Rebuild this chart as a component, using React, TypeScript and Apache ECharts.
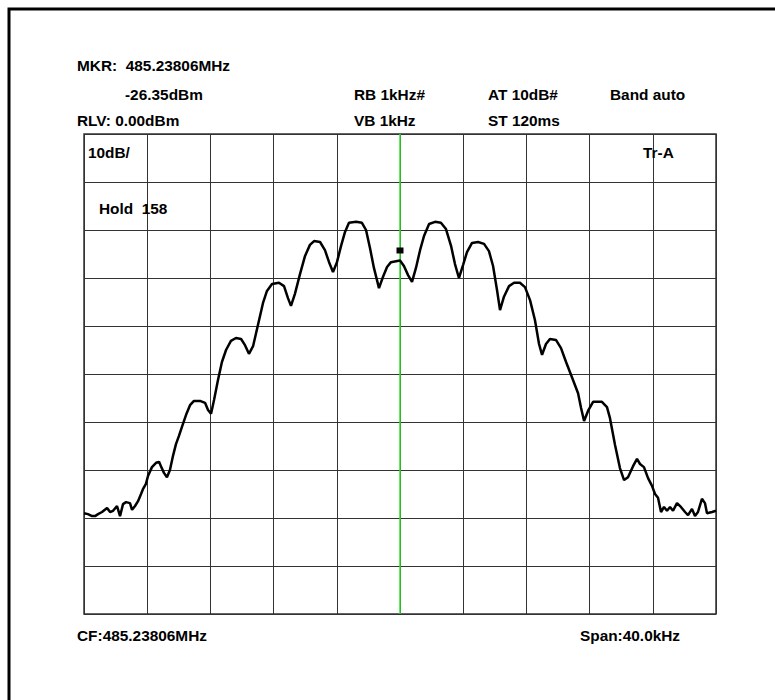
import React, { useEffect, useRef } from "react";
import * as echarts from "echarts";

// Frequency offset from centre (kHz), span 40 kHz
const freqOffsets = [
  -20, -19.75, -19.49, -19.3, -19.11, -18.86, -18.54, -18.35, -18.16, -17.91,
  -17.72, -17.53, -17.34, -17.09, -16.96, -16.77, -16.58, -16.39, -16.27, -16.08,
  -15.95, -15.7, -15.44, -15.25, -15.13, -14.94, -14.75, -14.56, -14.37, -14.18,
  -13.99, -13.8, -13.54, -13.29, -13.04, -12.66, -12.34, -12.15, -11.96, -11.77,
  -11.52, -11.27, -11.01, -10.7, -10.38, -10.06, -9.81, -9.56, -9.3, -8.99,
  -8.67, -8.42, -8.1, -7.66, -7.34, -7.09, -6.9, -6.65, -6.33, -6.01,
  -5.7, -5.44, -5.06, -4.75, -4.49, -4.24, -3.99, -3.73, -3.48, -3.23,
  -2.78, -2.41, -2.15, -1.9, -1.65, -1.33, -1.08, -0.82, -0.57, -0.25,
  0, 0.25, 0.51, 0.76, 1.01, 1.27, 1.52, 1.84, 2.22, 2.59,
  2.91, 3.23, 3.48, 3.73, 3.99, 4.24, 4.56, 4.94, 5.32, 5.63,
  5.89, 6.14, 6.33, 6.58, 6.9, 7.22, 7.59, 7.91, 8.23, 8.54,
  8.8, 8.99, 9.24, 9.49, 9.87, 10.19, 10.51, 10.95, 11.27, 11.46,
  11.65, 11.9, 12.22, 12.78, 13.1, 13.29, 13.61, 13.92, 14.18, 14.43,
  14.75, 15.0, 15.19, 15.44, 15.7, 15.95, 16.14, 16.33, 16.52, 16.71,
  16.9, 17.09, 17.28, 17.53, 17.78, 18.04, 18.23, 18.48, 18.67, 18.86,
  19.11, 19.3, 19.43, 19.75, 20,
];

// Trace level (dBm)
const levels = [
  -79.0, -79.2, -79.6, -79.6, -79.2, -78.75, -77.9, -78.75, -78.5, -77.5,
  -79.6, -77.1, -76.7, -76.9, -78.3, -77.5, -76.5, -75.0, -74.0, -72.9,
  -71.25, -69.4, -68.5, -68.3, -69.2, -70.6, -71.5, -70.0, -67.1, -64.6,
  -62.9, -61.0, -58.5, -56.5, -55.6, -55.6, -56.0, -57.5, -58.3, -55.4,
  -51.25, -47.5, -45.0, -43.1, -42.5, -42.7, -44.0, -45.8, -44.2, -39.8,
  -35.2, -32.7, -31.25, -31.0, -31.7, -34.2, -35.8, -33.3, -29.2, -25.4,
  -23.1, -22.3, -22.5, -24.2, -26.7, -28.75, -26.7, -23.3, -20.4, -18.5,
  -18.3, -18.5, -20.0, -23.75, -27.9, -32.1, -29.8, -27.7, -26.7, -26.5,
  -26.35, -27.5, -29.4, -30.8, -27.9, -24.2, -21.25, -18.75, -18.3, -18.5,
  -19.8, -23.3, -27.1, -30.0, -27.3, -24.6, -22.7, -22.5, -22.9, -24.4,
  -27.5, -32.5, -36.7, -33.9, -31.7, -31.0, -31.0, -31.9, -34.6, -38.75,
  -43.75, -46.0, -43.75, -42.7, -42.9, -44.6, -47.5, -51.25, -54.0, -57.1,
  -59.8, -57.7, -55.8, -55.8, -56.9, -59.2, -64.8, -69.6, -72.1, -71.5,
  -69.2, -67.7, -68.75, -69.4, -71.7, -73.3, -75.0, -75.8, -78.75, -77.7,
  -78.5, -77.7, -78.5, -76.9, -77.7, -78.75, -79.4, -78.1, -79.6, -78.75,
  -76.0, -76.9, -79.0, -78.75, -78.5,
];

const markerFreq = 0;
const markerLevel = -26.35;

const headerTexts = [
  { text: "MKR:  485.23806MHz", x: 77, y: 66 },
  { text: "-26.35dBm", x: 125, y: 95 },
  { text: "RLV: 0.00dBm", x: 77, y: 121 },
  { text: "RB 1kHz#", x: 354, y: 95 },
  { text: "AT 10dB#", x: 488, y: 95 },
  { text: "Band auto", x: 610, y: 95 },
  { text: "VB 1kHz", x: 354, y: 121 },
  { text: "ST 120ms", x: 488, y: 121 },
  { text: "10dB/", x: 88, y: 153 },
  { text: "Tr-A", x: 643, y: 153 },
  { text: "Hold  158", x: 99, y: 209 },
  { text: "CF:485.23806MHz", x: 77, y: 636 },
  { text: "Span:40.0kHz", x: 580, y: 636 },
];

export default function App() {
  const ref = useRef<HTMLDivElement>(null);

  useEffect(() => {
    if (!ref.current) return;
    const chart = echarts.init(ref.current, null, { renderer: "svg" });
    const data = freqOffsets.map((f, i) => [f, levels[i]]);
    const font = "'Liberation Sans', Arial, Helvetica, sans-serif";

    chart.setOption({
      animation: false,
      backgroundColor: "#ffffff",
      grid: {
        left: 84,
        top: 134,
        width: 632,
        height: 480,
        show: true,
        borderColor: "#333",
        borderWidth: 1.5,
        backgroundColor: "transparent",
      },
      xAxis: {
        type: "value",
        min: -20,
        max: 20,
        interval: 4,
        axisLine: { show: false },
        axisTick: { show: false },
        axisLabel: { show: false },
        splitLine: { show: true, lineStyle: { color: "#333", width: 1 } },
      },
      yAxis: {
        type: "value",
        min: -100,
        max: 0,
        interval: 10,
        axisLine: { show: false },
        axisTick: { show: false },
        axisLabel: { show: false },
        splitLine: { show: true, lineStyle: { color: "#333", width: 1 } },
      },
      series: [
        {
          type: "line",
          data,
          showSymbol: false,
          symbol: "none",
          lineStyle: { color: "#000", width: 2.5 },
          z: 3,
          markLine: {
            silent: true,
            symbol: "none",
            label: { show: false },
            lineStyle: { color: "#2ee02e", width: 1.5, type: "solid" },
            data: [{ xAxis: markerFreq }],
            z: 2,
          },
          markPoint: {
            silent: true,
            symbol: "rect",
            symbolSize: [7, 6],
            symbolOffset: [0, -10],
            itemStyle: { color: "#000" },
            label: { show: false },
            data: [{ coord: [markerFreq, markerLevel] }],
          },
        },
      ],
      graphic: [
        {
          type: "rect",
          shape: { x: 9, y: 9, width: 1000, height: 1000 },
          style: { fill: "none", stroke: "#000", lineWidth: 3 },
          silent: true,
        },
        ...headerTexts.map((t) => ({
          type: "text",
          x: t.x,
          y: t.y,
          scaleX: 1.1,
          z: 10,
          style: {
            text: t.text,
            fill: "#000",
            font: `bold 14px ${font}`,
            textAlign: "left",
            textVerticalAlign: "middle",
          },
          silent: true,
        })),
      ],
    });

    return () => chart.dispose();
  }, []);

  return (
    <div
      ref={ref}
      style={{ position: "absolute", left: 0, top: 0, width: 775, height: 700 }}
    />
  );
}
